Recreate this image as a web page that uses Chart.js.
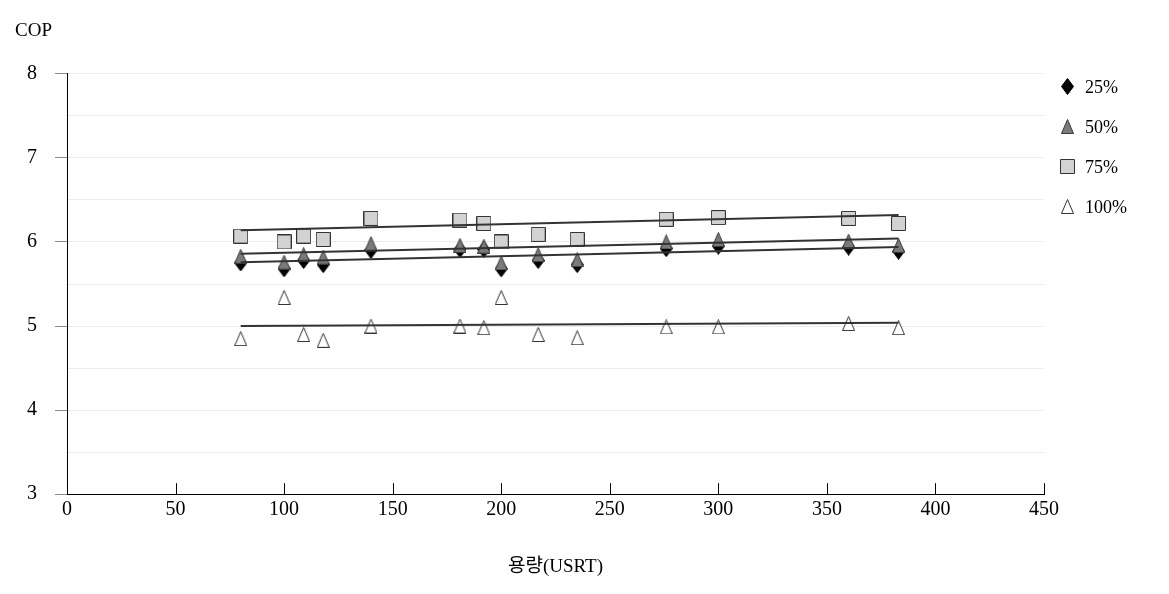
<!DOCTYPE html>
<html>
<head>
<meta charset="utf-8">
<script src="https://cdn.jsdelivr.net/npm/chart.js@4/dist/chart.umd.min.js"></script>
<style>
  html, body { margin: 0; padding: 0; background: #fff; }
  #wrap { width: 1169px; height: 594px; }
</style>
</head>
<body>
<div id="wrap"><canvas id="cop" width="1169" height="594"></canvas></div>
<script>
// capacity (USRT) of each measured chiller
const capacity = [80, 100, 109, 118, 140, 181, 192, 200, 217, 235, 276, 300, 360, 383];

// COP at each part load
const cop25  = [5.75, 5.68, 5.78, 5.73, 5.90, 5.91, 5.91, 5.68, 5.78, 5.73, 5.92, 5.95, 5.94, 5.89];
const cop50  = [5.83, 5.76, 5.85, 5.82, 5.98, 5.96, 5.95, 5.75, 5.85, 5.79, 6.00, 6.03, 6.01, 5.96];
const cop75  = [6.07, 6.00, 6.07, 6.03, 6.28, 6.26, 6.22, 6.00, 6.09, 6.03, 6.27, 6.29, 6.28, 6.22];
const cop100 = [4.85, 5.34, 4.90, 4.83, 5.00, 5.00, 4.98, 5.34, 4.90, 4.86, 4.99, 4.99, 5.03, 4.98];

// trend lines, read at both ends
const trendX   = [80, 383];
const trend25  = [5.76, 5.94];
const trend50  = [5.86, 6.04];
const trend75  = [6.14, 6.32];
const trend100 = [5.00, 5.04];

const loadLabels = ['25%', '50%', '75%', '100%'];
const xTicks = [0, 50, 100, 150, 200, 250, 300, 350, 400, 450];

const serif = "'Liberation Serif', 'DejaVu Serif', serif";

// small canvases used as point markers
function makeMarker(shape, fill, stroke) {
  const c = document.createElement('canvas');
  const w = shape === 'square' ? 15 : 13;
  const h = shape === 'diamond' ? 17 : 15;
  c.width = w; c.height = h;
  const g = c.getContext('2d');
  g.fillStyle = fill;
  g.strokeStyle = stroke;
  g.lineWidth = 1;
  g.beginPath();
  if (shape === 'diamond') {
    g.moveTo(w / 2, 0.5); g.lineTo(w - 0.5, h / 2); g.lineTo(w / 2, h - 0.5); g.lineTo(0.5, h / 2);
  } else if (shape === 'triangle') {
    g.moveTo(w / 2, 0.5); g.lineTo(w - 0.5, h - 0.5); g.lineTo(0.5, h - 0.5);
  } else {
    g.rect(0.5, 0.5, w - 1, h - 1);
  }
  g.closePath();
  g.fill();
  g.stroke();
  return c;
}

const markers = [
  makeMarker('diamond', '#000', '#000'),
  makeMarker('triangle', '#7a7a7a', '#3a3a3a'),
  makeMarker('square', '#d2d2d2', '#333'),
  makeMarker('triangle', '#fff', '#333')
];

const pts = ys => capacity.map((x, i) => ({ x: x, y: ys[i] }));
const line = ys => trendX.map((x, i) => ({ x: x, y: ys[i] }));

const seriesY = [cop25, cop50, cop75, cop100];
const trendY = [trend25, trend50, trend75, trend100];

const datasets = [];
seriesY.forEach((ys, i) => {
  datasets.push({
    label: loadLabels[i],
    data: pts(ys),
    pointStyle: markers[i],
    pointRadius: 7,
    showLine: false,
    order: 10 - i
  });
});
trendY.forEach((ys, i) => {
  datasets.push({
    label: 'trend ' + loadLabels[i],
    data: line(ys),
    showLine: true,
    borderColor: '#333',
    borderWidth: 2,
    pointRadius: 0,
    order: 0
  });
});

// x ticks point up into the plot
const innerTicks = {
  id: 'innerTicks',
  afterDraw(chart) {
    const xs = chart.scales.x;
    const ctx = chart.ctx;
    const bottom = chart.chartArea.bottom;
    ctx.save();
    ctx.strokeStyle = '#000';
    ctx.lineWidth = 1;
    xs.ticks.forEach(t => {
      const px = Math.round(xs.getPixelForValue(t.value)) + 0.5;
      ctx.beginPath();
      ctx.moveTo(px, bottom);
      ctx.lineTo(px, bottom - 11);
      ctx.stroke();
    });
    ctx.restore();
  }
};

// legend on the right, one row per load
const sideLegend = {
  id: 'sideLegend',
  afterDraw(chart) {
    const ctx = chart.ctx;
    const area = chart.chartArea;
    const x0 = area.right + 23;
    ctx.save();
    ctx.fillStyle = '#000';
    ctx.font = '18px ' + serif;
    ctx.textBaseline = 'middle';
    loadLabels.forEach((txt, i) => {
      const y = area.top + 13 + i * 40;
      const m = markers[i];
      ctx.drawImage(m, Math.round(x0 - m.width / 2), Math.round(y - m.height / 2));
      ctx.fillText(txt, x0 + 18, y + 1);
    });
    ctx.restore();
  }
};

new Chart(document.getElementById('cop'), {
  type: 'scatter',
  data: { datasets: datasets },
  plugins: [innerTicks, sideLegend],
  options: {
    responsive: false,
    animation: false,
    layout: { padding: { left: 15, right: 125, top: 0, bottom: 16 } },
    plugins: {
      title: {
        display: true,
        text: 'COP',
        align: 'start',
        color: '#000',
        font: { family: serif, size: 19, weight: 'normal' },
        padding: { top: 20, bottom: 31 }
      },
      legend: { display: false },
      tooltip: { enabled: false }
    },
    scales: {
      x: {
        type: 'linear',
        min: 0,
        max: 450,
        afterBuildTicks: s => { s.ticks = xTicks.map(v => ({ value: v })); },
        border: { color: '#000', width: 1 },
        grid: { display: false, drawTicks: false },
        ticks: {
          color: '#000',
          padding: 4,
          font: { family: serif, size: 20 }
        },
        title: {
          display: true,
          text: '용량(USRT)',
          color: '#000',
          font: { family: "'Liberation Serif', 'Noto Sans CJK KR', serif", size: 19 },
          padding: { top: 29, bottom: 0 }
        }
      },
      y: {
        min: 3,
        max: 8,
        afterFit: s => { s.width = 52; },
        border: { color: '#000', width: 1 },
        grid: {
          color: '#ececec',
          tickLength: 12,
          tickColor: c => Number.isInteger(c.tick.value) ? '#8a8a8a' : 'rgba(0,0,0,0)'
        },
        ticks: {
          stepSize: 0.5,
          color: '#000',
          padding: 18,
          font: { family: serif, size: 20 },
          callback: v => Number.isInteger(v) ? v : ''
        }
      }
    }
  }
});
</script>
</body>
</html>
